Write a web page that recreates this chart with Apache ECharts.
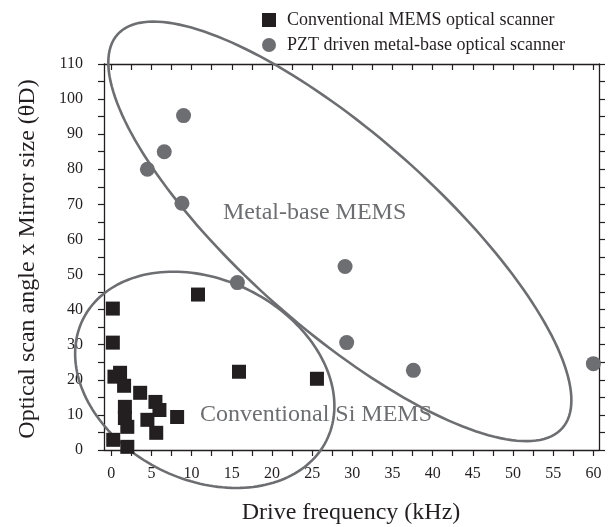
<!DOCTYPE html>
<html>
<head>
<meta charset="utf-8">
<script src="https://cdn.jsdelivr.net/npm/echarts@6/dist/echarts.min.js"></script>
<style>
html,body{margin:0;padding:0;background:#fff;}
#chart{width:608px;height:527px;}
</style>
</head>
<body>
<div id="chart"></div>
<script>
// ---- data ----
const convNames = 'Conventional MEMS optical scanner';
const pztNames = 'PZT driven metal-base optical scanner';
const convFreq = [0.2, 0.2, 1.1, 0.4, 1.6, 3.6, 5.5, 6.0, 1.7, 1.7, 2.0, 4.5, 5.6, 8.2, 0.25, 2.0, 10.8, 15.9, 25.6];
const convValue = [40.3, 30.6, 22.0, 20.9, 18.3, 16.3, 13.7, 11.4, 12.3, 9.1, 6.6, 8.6, 4.9, 9.4, 2.9, 0.9, 44.3, 22.3, 20.3];
const pztFreq = [4.5, 6.6, 9.0, 8.8, 15.7, 29.1, 29.3, 37.6, 60.0];
const pztValue = [80.0, 85.0, 95.3, 70.3, 47.7, 52.3, 30.6, 22.7, 24.6];
const xMajorTicks = [0, 5, 10, 15, 20, 25, 30, 35, 40, 45, 50, 55, 60];
const xMinorTicks = [0, 2.5, 5, 7.5, 10, 12.5, 15, 17.5, 20, 22.5, 25, 27.5, 30, 32.5, 35, 37.5, 40, 42.5, 45, 47.5, 50, 52.5, 55, 57.5, 60];
const yMajorTicks = [0, 10, 20, 30, 40, 50, 60, 70, 80, 90, 100, 110];
const yMinorTicks = [0, 5, 10, 15, 20, 25, 30, 35, 40, 45, 50, 55, 60, 65, 70, 75, 80, 85, 90, 95, 100, 105, 110];
// ellipse annotation: centre (data), semi-axes (px), tilt (deg)
const ellipseCenterX = [28.45, 11.64];
const ellipseCenterY = [62.3, 20.0];
const ellipseA = [297, 136];
const ellipseB = [97, 100];
const ellipseTilt = [41.5, 26.5];

const FONT = "'Liberation Serif', 'Times New Roman', serif";
const DARK = '#231f20';
const GRAY = '#6d6e71';

const chart = echarts.init(document.getElementById('chart'));

const ellipseData = ellipseCenterX.map((x, i) => [x, ellipseCenterY[i], ellipseA[i], ellipseB[i], ellipseTilt[i]]);

function axisX(pos, inside) {
  return {
    type: 'value', position: pos, min: -0.9, max: 60.7,
    axisLine: { show: true, onZero: false, lineStyle: { color: DARK, width: 1.3 } },
    axisTick: { show: true, inside: inside, length: 6, customValues: xMinorTicks, lineStyle: { color: DARK, width: 1.2 } },
    axisLabel: { show: pos === 'bottom', customValues: xMajorTicks, margin: 16, color: DARK, fontFamily: FONT, fontSize: 16 },
    splitLine: { show: false }
  };
}
function axisY(pos, inside) {
  return {
    type: 'value', position: pos, min: 0, max: 110,
    axisLine: { show: true, onZero: false, lineStyle: { color: DARK, width: 1.3 } },
    axisTick: { show: true, inside: inside, length: 6, customValues: yMinorTicks, lineStyle: { color: DARK, width: 1.2 } },
    axisLabel: { show: pos === 'left', customValues: yMajorTicks, margin: 21, color: DARK, fontFamily: FONT, fontSize: 16 },
    splitLine: { show: false }
  };
}

const option = {
  animation: false,
  backgroundColor: '#fff',
  grid: { left: 104, right: 9, top: 64, bottom: 77 },
  xAxis: [axisX('bottom', false), axisX('top', true)],
  yAxis: [axisY('left', false), axisY('right', false)],
  legend: {
    orient: 'vertical', left: 257, top: 6, itemWidth: 14, itemHeight: 14, itemGap: 7,
    data: [{ name: convNames, icon: 'rect' }, { name: pztNames, icon: 'circle' }],
    textStyle: { fontFamily: FONT, fontSize: 18, color: DARK, padding: [0, 0, 0, 6] }
  },
  graphic: [
    { type: 'text', x: 223, y: 213, style: { text: 'Metal-base MEMS', font: "24px 'Liberation Serif', 'Times New Roman', serif", fill: GRAY, align: 'left', verticalAlign: 'middle' } },
    { type: 'text', x: 200, y: 415, style: { text: 'Conventional Si MEMS', font: "24px 'Liberation Serif', 'Times New Roman', serif", fill: GRAY, align: 'left', verticalAlign: 'middle' } },
    { type: 'text', x: 351, y: 513, style: { text: 'Drive frequency (kHz)', font: "24px 'Liberation Serif', 'Times New Roman', serif", fill: DARK, align: 'center', verticalAlign: 'middle' } },
    { type: 'text', x: 28, y: 259, rotation: Math.PI / 2, style: { text: 'Optical scan angle x Mirror size (\u03b8D)', font: "24px 'Liberation Serif', 'Times New Roman', serif", fill: DARK, align: 'center', verticalAlign: 'middle' } }
  ],
  series: [
    {
      type: 'custom', name: 'ellipses', clip: false, silent: true, z: 1,
      data: ellipseData,
      renderItem: function (params, api) {
        const c = api.coord([api.value(0), api.value(1)]);
        const a = api.value(2), b = api.value(3), th = api.value(4) * Math.PI / 180;
        const pts = [];
        for (let k = 0; k < 180; k++) {
          const t = k / 180 * Math.PI * 2;
          const u = a * Math.cos(t), v = b * Math.sin(t);
          pts.push([c[0] + u * Math.cos(th) - v * Math.sin(th), c[1] + u * Math.sin(th) + v * Math.cos(th)]);
        }
        return { type: 'polygon', shape: { points: pts, smooth: 0 }, style: { fill: 'none', stroke: GRAY, lineWidth: 2.6 } };
      }
    },
    {
      type: 'scatter', name: convNames, symbol: 'rect', symbolSize: 14, z: 3,
      itemStyle: { color: DARK, opacity: 1 },
      data: convFreq.map((x, i) => [x, convValue[i]])
    },
    {
      type: 'scatter', name: pztNames, symbol: 'circle', symbolSize: 15, z: 3,
      itemStyle: { color: GRAY, opacity: 1 },
      data: pztFreq.map((x, i) => [x, pztValue[i]])
    }
  ]
};
chart.setOption(option);
</script>
</body>
</html>
